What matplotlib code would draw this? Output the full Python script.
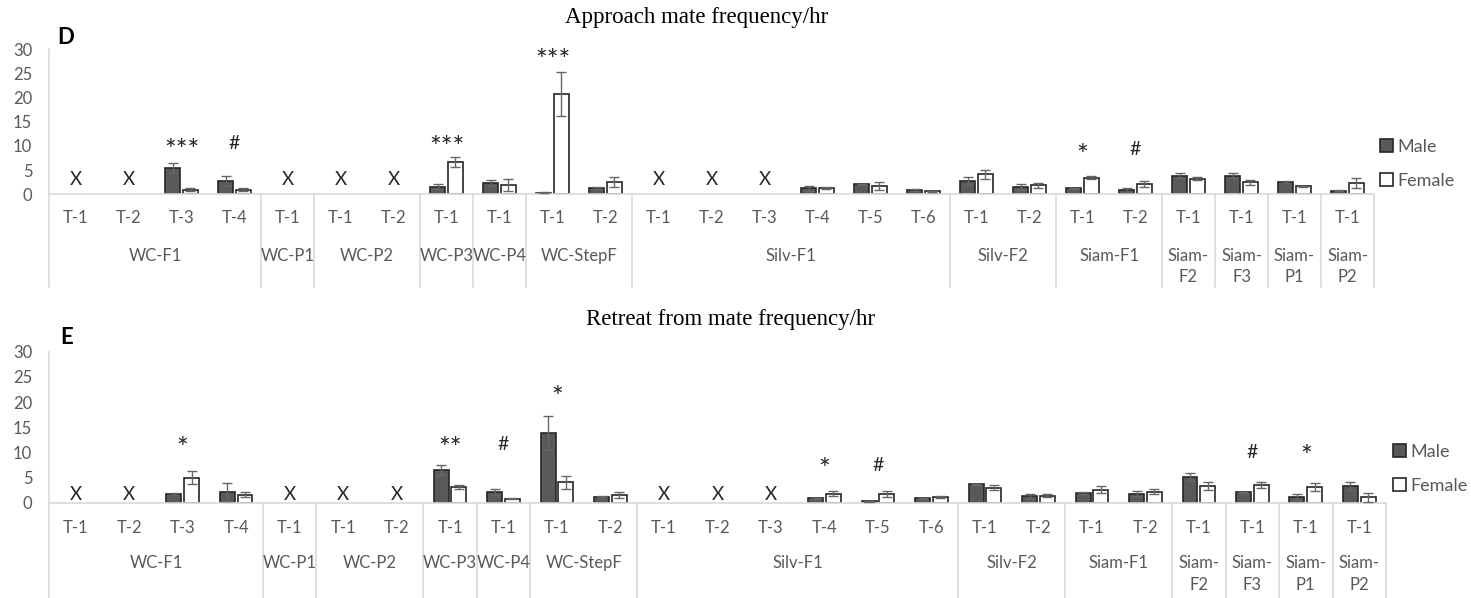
import numpy as np
import matplotlib
matplotlib.use("Agg")
import matplotlib.pyplot as plt
from matplotlib.patches import Patch
from matplotlib.transforms import blended_transform_factory

nan = np.nan

# ---------------- data ----------------
categories = ["T-1", "T-2", "T-3", "T-4",
              "T-1",
              "T-1", "T-2",
              "T-1",
              "T-1",
              "T-1", "T-2",
              "T-1", "T-2", "T-3", "T-4", "T-5", "T-6",
              "T-1", "T-2",
              "T-1", "T-2",
              "T-1", "T-1", "T-1", "T-1"]
groups = ["WC-F1", "WC-P1", "WC-P2", "WC-P3", "WC-P4", "WC-StepF", "Silv-F1",
          "Silv-F2", "Siam-F1", "Siam-\nF2", "Siam-\nF3", "Siam-\nP1", "Siam-\nP2"]
group_sizes = [4, 1, 2, 1, 1, 2, 6, 2, 2, 1, 1, 1, 1]

# Panel D: Approach mate frequency/hr
d_male = [nan, nan, 5.4, 2.8, nan, nan, nan, 1.6, 2.3, 0.35, 1.3,
          nan, nan, nan, 1.25, 2.05, 0.9, 2.75, 1.5, 1.2, 0.9, 3.85, 3.85, 2.55, 0.7]
d_male_err = [0, 0, 1.0, 1.0, 0, 0, 0, 0.55, 0.55, 0.1, 0.2,
              0, 0, 0, 0.55, 0.15, 0.2, 0.75, 0.6, 0.2, 0.5, 0.55, 0.55, 0.15, 0.1]
d_female = [nan, nan, 0.9, 0.9, nan, nan, nan, 6.7, 1.9, 20.7, 2.55,
            nan, nan, nan, 1.3, 1.7, 0.6, 4.1, 1.85, 3.45, 2.15, 3.2, 2.5, 1.7, 2.4]
d_female_err = [0, 0, 0.3, 0.3, 0, 0, 0, 1.0, 1.2, 4.5, 1.0,
                0, 0, 0, 0.2, 0.75, 0.15, 0.95, 0.55, 0.35, 0.6, 0.3, 0.5, 0.1, 1.05]
d_sig_idx = [2, 3, 7, 9, 19, 20]
d_sig_txt = ["***", "#", "***", "***", "*", "#"]
d_sig_y = [10.4, 10.5, 11.0, 29.0, 9.2, 9.2]

# Panel E: Retreat from mate frequency/hr
e_male = [nan, nan, 1.7, 2.2, nan, nan, nan, 6.5, 2.1, 13.8, 1.2,
          nan, nan, nan, 0.85, 0.3, 0.85, 3.7, 1.3, 1.85, 1.8, 5.15, 2.1, 1.05, 3.3]
e_male_err = [0, 0, 0.15, 1.8, 0, 0, 0, 1.0, 0.55, 3.4, 0.1,
              0, 0, 0, 0.1, 0.1, 0.1, 0.1, 0.5, 0.2, 0.45, 0.85, 0.1, 0.6, 0.85]
e_female = [nan, nan, 5.0, 1.6, nan, nan, nan, 3.1, 0.8, 4.1, 1.45,
            nan, nan, nan, 1.8, 1.7, 1.2, 3.0, 1.35, 2.6, 2.2, 3.3, 3.6, 3.1, 1.05]
e_female_err = [0, 0, 1.3, 0.5, 0, 0, 0, 0.35, 0.1, 1.3, 0.6,
                0, 0, 0, 0.5, 0.6, 0.2, 0.55, 0.3, 0.65, 0.45, 0.85, 0.6, 0.75, 0.95]
e_sig_idx = [2, 7, 8, 9, 14, 15, 22, 23]
e_sig_txt = ["*", "**", "#", "*", "*", "#", "#", "*"]
e_sig_y = [12.0, 12.0, 11.5, 22.2, 7.8, 7.3, 10.0, 10.5]

yticks = [0, 5, 10, 15, 20, 25, 30]

# ---------------- style ----------------
W, H = 1471, 598
MALE_C = "#595959"
EDGE_C = "#262626"
AXIS_C = "#d9d9d9"
TXT_C = "#595959"
SANS = ["Lato", "DejaVu Sans"]
SERIF = ["Liberation Serif", "DejaVu Serif"]

fig = plt.figure(figsize=(W / 100, H / 100), dpi=100)


def px_rect(left, top, right, bottom):
    return [left / W, 1 - bottom / H, (right - left) / W, (bottom - top) / H]


def panel(rect, male, male_err, female, female_err, sig_idx, sig_txt, sig_y,
          title, title_xy, letter_xy, letter, sep_depth, cat_off, grp_off,
          grp_line2, x_mark_y):
    ax = fig.add_axes(rect)
    x = np.arange(len(categories))
    bw = 0.28
    off = 0.165
    ax.bar(x - off, male, bw, color=MALE_C, edgecolor=EDGE_C, linewidth=1.2, zorder=2)
    ax.bar(x + off, female, bw, color="white", edgecolor=EDGE_C, linewidth=1.2, zorder=2)
    ax.errorbar(x - off, male, yerr=male_err, fmt="none", ecolor="#666666",
                elinewidth=1.0, capsize=3.5, capthick=1.0, zorder=3)
    ax.errorbar(x + off, female, yerr=female_err, fmt="none", ecolor="#666666",
                elinewidth=1.0, capsize=3.5, capthick=1.0, zorder=3)
    # X marks for missing data
    for i in range(len(categories)):
        if np.isnan(male[i]) and np.isnan(female[i]):
            ax.text(i, x_mark_y, "X", ha="center", va="center", fontsize=13.5,
                    color="#262626", family=SANS)
    for i, t, yv in zip(sig_idx, sig_txt, sig_y):
        if "*" in t:
            ax.text(i, yv - 1.6, t, ha="center", va="center", fontsize=20,
                    color="#262626", family=SANS)
        else:
            ax.text(i, yv, t, ha="center", va="center", fontsize=14,
                    color="#262626", family=SANS)

    ax.set_xlim(-0.5, len(categories) - 0.5)
    ax.set_ylim(0, 30)
    ax.set_yticks(yticks)
    ax.set_xticks([])
    ax.tick_params(axis="y", length=0, pad=12, labelsize=12, labelcolor=TXT_C)
    for lab in ax.get_yticklabels():
        lab.set_family(SANS)
    for s in ["top", "right"]:
        ax.spines[s].set_visible(False)
    for s in ["left", "bottom"]:
        ax.spines[s].set_color(AXIS_C)
        ax.spines[s].set_linewidth(1.2)

    trans = blended_transform_factory(ax.transData, ax.transAxes)
    # group separators
    bounds = np.concatenate([[0], np.cumsum(group_sizes)]) - 0.5
    for b in bounds:
        ax.plot([b, b], [0, -sep_depth], transform=trans, color=AXIS_C,
                lw=1.2, clip_on=False)
    # category labels
    for i, c in enumerate(categories):
        ax.text(i, -cat_off, c, transform=trans, ha="center", va="center",
                fontsize=12, color=TXT_C, family=SANS)
    # group labels
    for g, (lo, hi) in zip(groups, zip(bounds[:-1], bounds[1:])):
        cx = (lo + hi) / 2
        lines = g.split("\n")
        for k, ln in enumerate(lines):
            ax.text(cx, -grp_off - k * grp_line2, ln, transform=trans,
                    ha="center", va="center", fontsize=12, color=TXT_C,
                    family=SANS)

    fig.text(title_xy[0] / W, 1 - title_xy[1] / H, title, ha="center",
             va="center", fontsize=16.5, family=SERIF, color="#000000")
    fig.text(letter_xy[0] / W, 1 - letter_xy[1] / H, letter, ha="center",
             va="center", fontsize=16, family=SANS, fontweight="bold",
             color="#000000")
    return ax


# Top panel (D)
hD = 194.3 - 49
axD = panel(px_rect(49, 49, 1374, 194.3), d_male, d_male_err, d_female,
            d_female_err, d_sig_idx, d_sig_txt, d_sig_y,
            "Approach mate frequency/hr", (697, 18), (66, 37), "D",
            (287 - 194.3) / hD, 24 / hD, 62 / hD, 21 / hD, 3.0)

# Bottom panel (E)
hE = 502.7 - 351.7
axE = panel(px_rect(49, 351.7, 1386, 502.7), e_male, e_male_err, e_female,
            e_female_err, e_sig_idx, e_sig_txt, e_sig_y,
            "Retreat from mate frequency/hr", (731, 319), (67, 338), "E",
            (598 - 502.7) / hE, 25 / hE, 60 / hE, 22 / hE, 1.6)

handles = [Patch(facecolor=MALE_C, edgecolor=EDGE_C, linewidth=1.2, label="Male"),
           Patch(facecolor="white", edgecolor=EDGE_C, linewidth=1.2, label="Female")]
for yy, xx in [(139, 1380), (444, 1393)]:
    leg = fig.legend(handles=handles, loc="upper left",
                     bbox_to_anchor=(xx / W, 1 - yy / H), frameon=False,
                     handlelength=0.7, handleheight=0.7, handletextpad=0.25,
                     labelspacing=1.0, borderpad=0, borderaxespad=0,
                     prop={"family": SANS, "size": 13})
    for t in leg.get_texts():
        t.set_color(TXT_C)

fig.savefig("out.png", dpi=100)
